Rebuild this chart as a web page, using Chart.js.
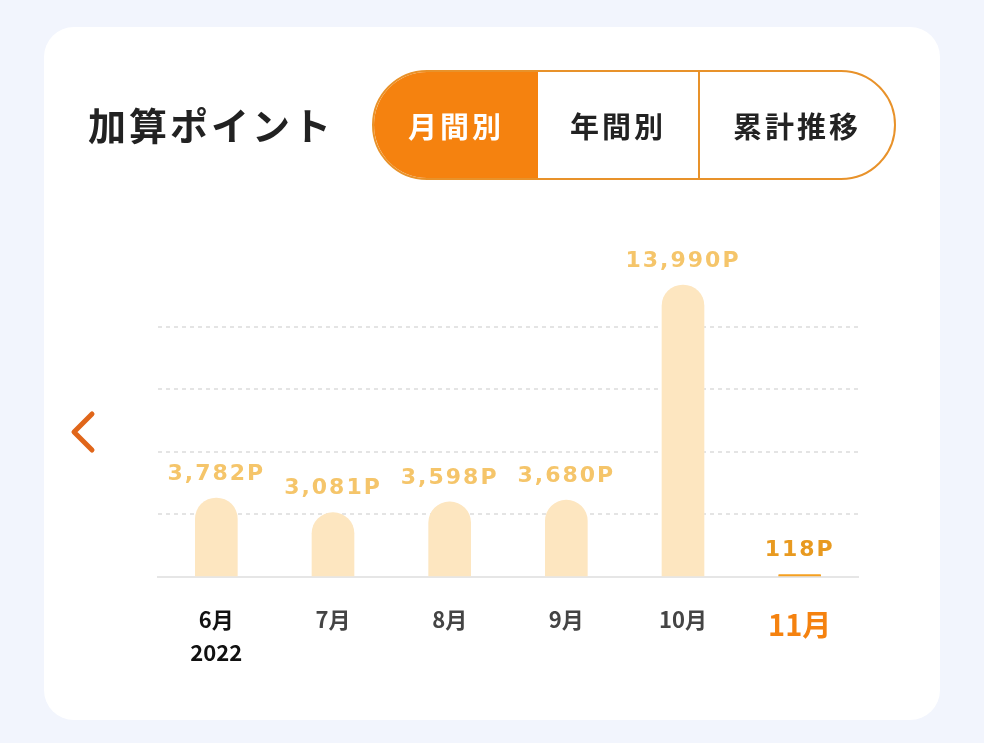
<!DOCTYPE html>
<html><head><meta charset="utf-8">
<script src="https://cdn.jsdelivr.net/npm/chart.js@4"></script>
<style>
body{margin:0;width:984px;height:743px;background:#f2f5fd;font-family:"Noto Sans CJK JP","Noto Sans",sans-serif;overflow:hidden}
#card{position:absolute;left:44px;top:27px;width:896px;height:693px;background:#fff;border-radius:30px}
#cv{position:absolute;left:0;top:0}
#title{position:absolute;left:88px;top:96px;font-size:38px;font-weight:bold;color:#222;letter-spacing:3px}
#tabs{position:absolute;left:372px;top:70px;width:520px;height:106px;border:2px solid #e8922a;border-radius:56px;display:flex;overflow:hidden}
#tabs div{display:flex;align-items:center;justify-content:center;font-size:29px;font-weight:bold;color:#222;letter-spacing:3px}
#tabs .on{background:#f5820f;color:#fff}
#arrow{position:absolute;left:68px;top:410px}
</style></head><body>
<div id="card"></div>
<canvas id="cv" width="984" height="743"></canvas>
<div id="title">加算ポイント</div>
<div id="tabs"><div class="on" style="width:164px">月間別</div><div style="width:160px;border-right:2px solid #e8922a">年間別</div><div style="flex:1">累計推移</div></div>
<svg id="arrow" width="30" height="44"><polyline points="24,4 6,22 24,40" fill="none" stroke="#e0661a" stroke-width="5" stroke-linecap="round" stroke-linejoin="round"/></svg>
<script>
const months = [['6月', '2022'], '7月', '8月', '9月', '10月', '11月'];
const points = [3782, 3081, 3598, 3680, 13990, 118];
const gridValues = [3000, 6000, 9000, 12000];

const barColors = points.map((v, i) => i === points.length - 1 ? '#f5a020' : '#fde6c0');

// Value labels above bars
const valueLabels = {
    id: 'valueLabels',
    afterDatasetsDraw(chart) {
        const ctx = chart.ctx;
        const meta = chart.getDatasetMeta(0);
        ctx.save();
        ctx.font = 'bold 22px "DejaVu Sans", sans-serif';
        ctx.letterSpacing = '2px';
        ctx.textAlign = 'center';
        ctx.textBaseline = 'middle';
        meta.data.forEach((bar, i) => {
            const last = i === points.length - 1;
            ctx.fillStyle = last ? '#e89a20' : '#f5c56a';
            ctx.fillText(points[i].toLocaleString('en-US') + 'P', bar.x, bar.y - 24);
        });
        ctx.restore();
    }
};

new Chart(document.getElementById('cv'), {
    type: 'bar',
    data: {
        labels: months,
        datasets: [{
            data: points,
            backgroundColor: barColors,
            barThickness: 42,
            borderRadius: 21
        }]
    },
    options: {
        responsive: false,
        animation: false,
        layout: { padding: { left: 158, right: 126, top: 243, bottom: 0 } },
        plugins: { legend: { display: false }, tooltip: { enabled: false } },
        scales: {
            x: {
                afterFit: s => { s.height = 166; },
                grid: { display: false },
                border: { display: true, color: '#e6e6e6', width: 2 },
                ticks: {
                    padding: 18,
                    color: ctx => ctx.index === 5 ? '#f5820f' : (ctx.index === 0 ? '#111' : '#444'),
                    font: ctx => ({
                        size: ctx.index === 5 ? 29 : 22,
                        weight: 'bold',
                        family: '"Noto Sans CJK JP", sans-serif',
                        lineHeight: 1.5
                    })
                }
            },
            y: {
                min: 0,
                max: 16000,
                afterFit: s => { s.width = 0; },
                afterBuildTicks: s => { s.ticks = [0, ...gridValues].map(v => ({ value: v })); },
                ticks: { display: false },
                border: { display: false, dash: [4, 4] },
                grid: {
                    drawTicks: false,
                    lineWidth: 2,
                    color: ctx => ctx.tick && ctx.tick.value === 0 ? 'rgba(0,0,0,0)' : '#e4e4e4'
                }
            }
        }
    },
    plugins: [valueLabels]
});
</script>
</body></html>
